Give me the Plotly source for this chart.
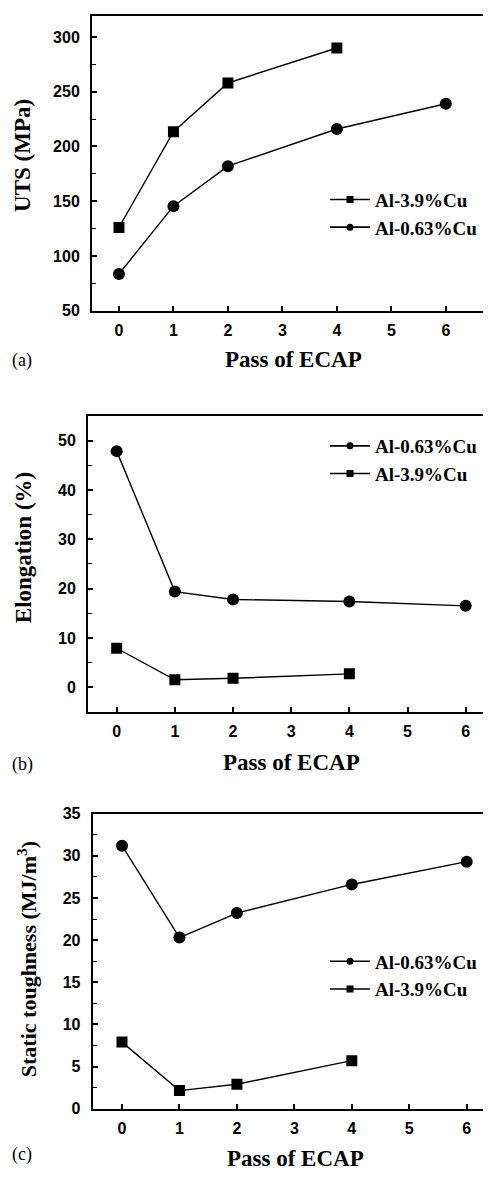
import plotly.graph_objects as go

W, H = 491, 1178
OFF = 8  # page body margin offset (screen = figure + 8)

passes_39 = [0, 1, 2, 4]
passes_063 = [0, 1, 2, 4, 6]

uts_39 = [126, 213.5, 258, 290]
uts_063 = [83.5, 145.5, 182, 216, 239]

elong_063 = [47.9, 19.4, 17.8, 17.4, 16.5]
elong_39 = [7.9, 1.5, 1.8, 2.7]

tough_063 = [31.2, 20.3, 23.2, 26.6, 29.3]
tough_39 = [7.9, 2.15, 2.9, 5.7]

name_39 = "Al-3.9%Cu"
name_063 = "Al-0.63%Cu"

x_ticks = [0, 1, 2, 3, 4, 5, 6]


def px(x):
    return min(1.0, max(0.0, (x - OFF) / W))


def py(y):
    return min(1.0, max(0.0, 1 - (y - OFF) / H))


TICKFONT = dict(family="Liberation Sans, Arial", size=16, color="black", weight="bold")
LEGFONT = dict(family="Liberation Serif, Times New Roman", size=19, color="black", weight="bold")
LABFONT = dict(family="Liberation Serif, Times New Roman", size=18, color="black")


def tfont(sz):
    return dict(family="Liberation Serif, Times New Roman", size=sz, color="black", weight="bold")


fig = go.Figure()

panels = [
    dict(s="", left=92, top=8, bottom=307, xr=[-0.495, 6.976], yr=[50, 319.2], dt=50,
         series=[(name_39, passes_39, uts_39, "square"), (name_063, passes_063, uts_063, "circle")],
         ytitle="UTS (MPa)", ytsz=23, ytx=23, yty=150, xtx=293, xty=357,
         lab="(a)", laby=358, legx=333, legy=192),
    dict(s="2", left=88, top=414, bottom=714, xr=[-0.493, 6.572], yr=[-5, 55], dt=10,
         series=[(name_063, passes_063, elong_063, "circle"), (name_39, passes_39, elong_39, "square")],
         ytitle="Elongation (%)", ytsz=23, ytx=23, yty=548, xtx=291, xty=765,
         lab="(b)", laby=767, legx=333, legy=442),
    dict(s="3", left=92.7, top=817.3, bottom=1116.7, xr=[-0.51, 6.562], yr=[0, 35], dt=5,
         series=[(name_063, passes_063, tough_063, "circle"), (name_39, passes_39, tough_39, "square")],
         ytitle="Static toughness (MJ/m<sup>3</sup>)", ytsz=22, ytx=27, yty=965, xtx=295, xty=1167,
         lab="(c)", laby=1163, legx=333, legy=965),
]

layout = dict(width=W, height=H, margin=dict(l=0, r=0, t=0, b=0),
              paper_bgcolor="white", plot_bgcolor="white", annotations=[])

for p in panels:
    s = p["s"]
    xa = "x" + s
    ya = "y" + s
    leg = "legend" + s
    for (nm, xs, ys, sym) in p["series"]:
        fig.add_trace(go.Scatter(
            x=xs, y=ys, mode="lines+markers", name=nm,
            line=dict(color="black", width=1.4),
            marker=dict(symbol=sym, size=11 if sym == "square" else 12, color="black"),
            xaxis=xa, yaxis=ya, showlegend=False))
        fig.add_trace(go.Scatter(
            x=[None], y=[None], mode="lines+markers", name=nm,
            line=dict(color="black", width=1.6),
            marker=dict(symbol=sym, size=7, color="black"),
            xaxis=xa, yaxis=ya, showlegend=True, legend=leg))
    layout["xaxis" + s] = dict(
        domain=[px(p["left"]), 1], range=p["xr"], anchor=ya,
        tickvals=x_ticks, ticks="inside", ticklen=5, tickwidth=1.5, tickcolor="black",
        showline=True, linecolor="black", linewidth=2, mirror=True,
        showgrid=False, zeroline=False, tickfont=TICKFONT, ticklabelstandoff=4)
    layout["yaxis" + s] = dict(
        domain=[py(p["bottom"]), py(p["top"])], range=p["yr"], anchor=xa,
        dtick=p["dt"], tick0=0, ticks="inside", ticklen=5, tickwidth=1.5, tickcolor="black",
        minor=dict(dtick=p["dt"] / 2, tick0=0, ticks="inside", ticklen=4, tickwidth=1.2,
                   tickcolor="black"),
        showline=True, linecolor="black", linewidth=2,
        showgrid=False, zeroline=False, tickfont=TICKFONT, ticklabelstandoff=7)
    layout[leg] = dict(x=px(p["legx"] - 8), y=py(p["legy"] - 17), xanchor="left", yanchor="top",
                       font=LEGFONT, bgcolor="rgba(0,0,0,0)", tracegroupgap=0,
                       itemwidth=40)
    layout["annotations"] += [
        dict(text="Pass of ECAP", x=px(p["xtx"]), y=py(p["xty"]), xref="paper", yref="paper",
             showarrow=False, font=tfont(23), xanchor="center", yanchor="middle"),
        dict(text=p["ytitle"], x=px(p["ytx"]), y=py(p["yty"]), xref="paper", yref="paper",
             showarrow=False, font=tfont(p["ytsz"]), textangle=-90,
             xanchor="center", yanchor="middle"),
        dict(text=p["lab"], x=px(22), y=py(p["laby"]), xref="paper", yref="paper",
             showarrow=False, font=LABFONT, xanchor="center", yanchor="middle"),
    ]

fig.update_layout(**layout)
fig.write_html("out.html")
